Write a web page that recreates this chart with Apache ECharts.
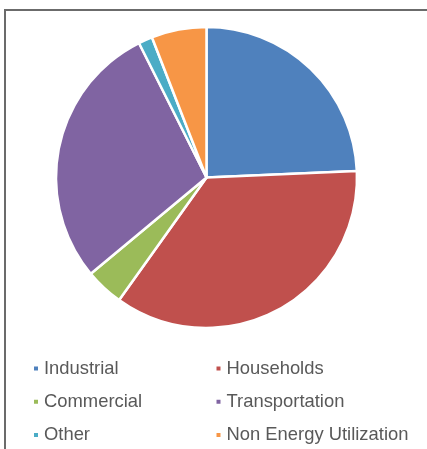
<!DOCTYPE html>
<html>
<head>
<meta charset="utf-8">
<script src="https://cdn.jsdelivr.net/npm/echarts@6/dist/echarts.min.js"></script>
<style>
html,body{margin:0;padding:0;background:#fff;}
#chart{width:427px;height:449px;}
</style>
</head>
<body>
<div id="chart"></div>
<script>
const categories = ['Industrial', 'Households', 'Commercial', 'Transportation', 'Other', 'Non Energy Utilization'];
const values = [24.3, 35.5, 4.1, 28.6, 1.5, 5.9];
const colors = ['#4F81BD', '#C0504D', '#9BBB59', '#8064A2', '#4BACC6', '#F79646'];
const leftLegend = ['Industrial', 'Commercial', 'Other'];
const rightLegend = ['Households', 'Transportation', 'Non Energy Utilization'];

const chart = echarts.init(document.getElementById('chart'));
const legendText = { fontFamily: 'Liberation Sans, Arial, sans-serif', fontSize: 18.4, color: '#595959', lineHeight: 18 };
const legendBase = {
  orient: 'vertical', icon: 'rect', itemWidth: 6, itemHeight: 6,
  itemGap: 15.3, top: 359.5, padding: 0, textStyle: legendText,
  selectedMode: false
};
chart.setOption({
  animation: false,
  color: colors,
  graphic: [{
    type: 'rect', shape: { x: 5, y: 10, width: 440, height: 460 },
    style: { fill: 'none', stroke: '#6b6b6b', lineWidth: 2 }, silent: true
  }],
  legend: [
    Object.assign({}, legendBase, { left: 32, data: leftLegend }),
    Object.assign({}, legendBase, { left: 214.5, data: rightLegend })
  ],
  series: [{
    type: 'pie',
    center: [206.5, 177.5],
    radius: 150.5,
    startAngle: 90,
    clockwise: true,
    label: { show: false },
    labelLine: { show: false },
    emphasis: { disabled: true },
    itemStyle: { borderColor: '#fff', borderWidth: 2.5 },
    data: categories.map((c, i) => ({ name: c, value: values[i] }))
  }]
});
</script>
</body>
</html>
